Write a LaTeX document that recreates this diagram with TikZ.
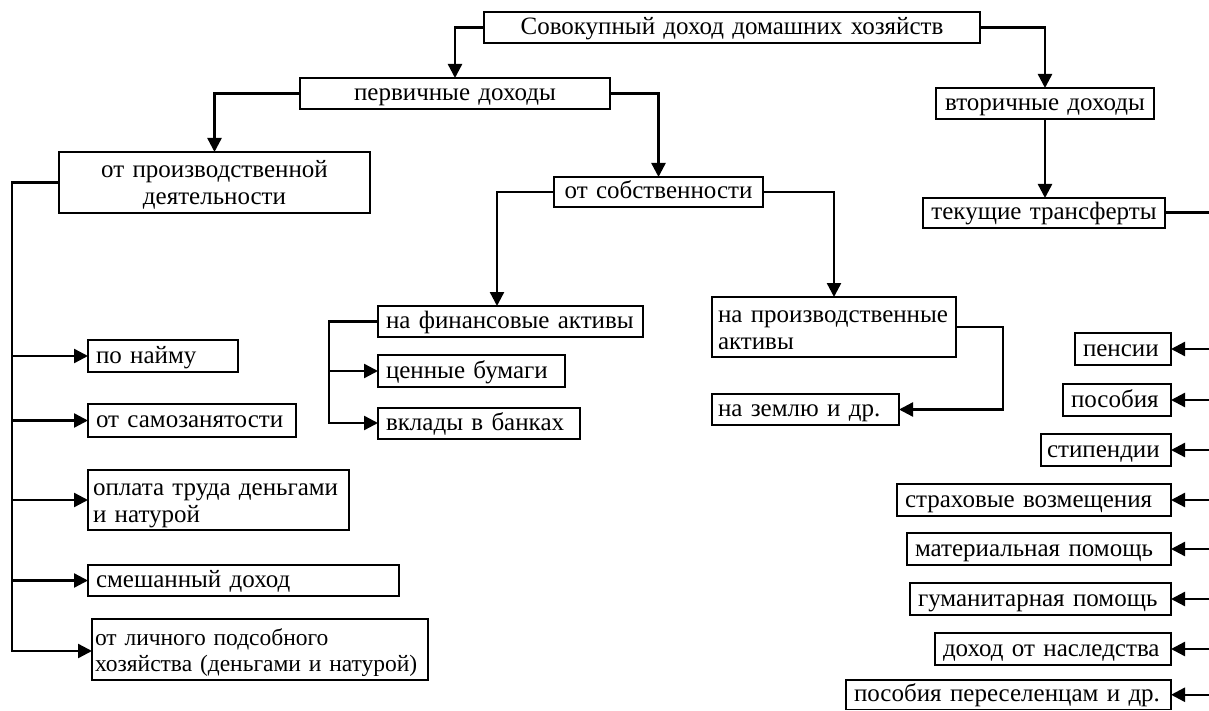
\documentclass[tikz,border=0pt]{standalone}
\usepackage{fontspec}
\setmainfont{Liberation Serif}
\usetikzlibrary{arrows.meta,calc}
\begin{document}
\begin{tikzpicture}[x=1pt,y=-1pt,
  bx/.style={draw, line width=1.4pt, inner xsep=8pt, inner ysep=0pt, outer sep=0pt,
    font=\fontsize{25}{27}\selectfont, anchor=north west, align=left,
    text height=18pt, text depth=4pt},
  two/.style={text height=23pt, text depth=32pt},
  cbx/.style={bx, align=center},
  conn/.style={line width=2.4pt},
  arr/.style={line width=2.4pt, -{Triangle[length=14pt,width=14pt]}}]
\useasboundingbox (0,0) rectangle (1209,711);
\fill[white] (0,0) rectangle (1209,711);

% top level
\node[cbx, text width=480pt, minimum height=31pt] (top) at (484,12) {Совокупный доход домашних хозяйств};
\node[cbx, text width=294pt, minimum height=31pt] (prim) at (300,78) {первичные доходы};
\node[cbx, text width=202pt, minimum height=31pt] (vtor) at (936,88) {вторичные доходы};
\node[cbx, inner xsep=4pt, text width=234pt, minimum height=30pt] (tek) at (923,198) {текущие трансферты};
\node[cbx, two, text width=295pt, minimum height=61pt] (proizv) at (59,152) {от производственной\\деятельности};
\node[cbx, text width=193pt, minimum height=30pt] (sobst) at (554,177) {от собственности};

% property branch
\node[bx, text width=249pt, minimum height=31pt] (fin) at (378,306) {на финансовые активы};
\node[bx, text width=171pt, minimum height=32pt] (cen) at (378,355) {ценные бумаги};
\node[bx, text width=186pt, minimum height=31pt] (vkl) at (378,408) {вклады в банках};
\node[bx, two, inner xsep=6pt, text width=232pt, minimum height=60pt] (prakt) at (712,297) {на производственные\\активы};
\node[bx, inner xsep=6pt, text width=175pt, minimum height=31pt] (zem) at (712,394) {на землю и др.};

% production branch
\node[bx, text width=134pt, minimum height=32pt] (naim) at (88,340) {по найму};
\node[bx, text width=192pt, minimum height=33pt] (samoz) at (88,404) {от самозанятости};
\node[bx, two, inner xsep=5pt, text width=251pt, minimum height=60pt] (oplata) at (88,470) {оплата труда деньгами\\и натурой};
\node[bx, text width=295pt, minimum height=31pt] (smesh) at (88,565) {смешанный доход};
\node[bx, two, inner xsep=3pt, text width=330pt, minimum height=61pt, text depth=31pt,
  font=\fontsize{23.5}{26}\selectfont] (lichn) at (92,619) {от личного подсобного\\хозяйства (деньгами и натурой)};

% transfers
\node[bx, text width=80pt, minimum height=32pt] (pens) at (1075,333) {пенсии};
\node[bx, text width=92pt, minimum height=32pt] (posob) at (1063,384) {пособия};
\node[bx, inner xsep=6pt, text width=118pt, minimum height=32pt] (stip) at (1041,434) {стипендии};
\node[bx, text width=258pt, minimum height=32pt] (strah) at (897,484) {страховые возмещения};
\node[bx, text width=248pt, minimum height=32pt] (mat) at (907,533) {материальная помощь};
\node[bx, text width=245pt, minimum height=32pt] (gum) at (910,583) {гуманитарная помощь};
\node[bx, text width=220pt, minimum height=32pt] (nasl) at (935,633) {доход от наследства};
\node[bx, text width=309pt, minimum height=29.5pt] (peres) at (846,680) {пособия переселенцам и др.};

% connectors
\draw[arr] (top.west) -| (prim.north);
\draw[arr] (top.east) -| (vtor.north);
\draw[arr] (prim.west) -| (proizv.north);
\draw[arr] (prim.east) -| (sobst.north);
\draw[arr] (vtor.south) -- (vtor.south |- tek.north);
\draw[arr] (sobst.west) -| ([xshift=-13.5pt]fin.north);
\draw[arr] (sobst.east) -| (prakt.north);
\draw[arr] (prakt.east) -- ++(47,0) |- (zem.east);

\coordinate (lb) at (12,651);
\draw[arr] (proizv.west) -| (lb) -- (lb -| lichn.west);
\foreach \n in {naim,samoz,oplata,smesh} \draw[arr] (lb |- \n.west) -- (\n.west);

\coordinate (mb) at (329,423);
\draw[arr] (fin.west) -| (mb) -- (mb -| vkl.west);
\draw[arr] (mb |- cen.west) -- (cen.west);

\coordinate (rb) at (1214,695);
\draw[line width=3pt] (tek.east) -| (rb);
\foreach \n in {pens,posob,stip,strah,mat,gum,nasl,peres} \draw[arr] (rb |- \n.east) -- (\n.east);
\end{tikzpicture}
\end{document}
